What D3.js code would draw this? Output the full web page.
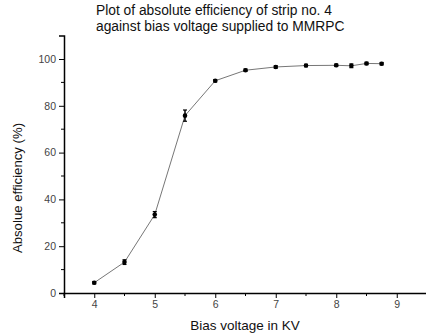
<!DOCTYPE html>
<html>
<head>
<meta charset="utf-8">
<script src="https://cdn.jsdelivr.net/npm/d3@7"></script>
<style>
  body { margin: 0; background: #fff; }
  text { font-family: "Liberation Sans", Arial, sans-serif; }
</style>
</head>
<body>
<script>
const WIDTH = 426
const HEIGHT = 333

// data
const voltage = [4, 4.5, 5, 5.5, 6, 6.5, 7, 7.5, 8, 8.25, 8.5, 8.75]
const efficiency = [4.4, 13.2, 33.5, 75.8, 90.7, 95.2, 96.6, 97.2, 97.3, 97.1, 98.1, 98.0]
const errors = [0.5, 1.0, 1.3, 2.4, 0.5, 0.5, 0.5, 0.5, 0.5, 0.8, 0.5, 0.5]
const xTicks = [4, 5, 6, 7, 8, 9]
const yTicks = [0, 20, 40, 60, 80, 100]

const svg = d3.select("body").append("svg")
    .attr("width", WIDTH)
    .attr("height", HEIGHT)

const x = d3.scaleLinear().domain([3.5, 9.5]).range([64, 427])
const y = d3.scaleLinear().domain([0, 110]).range([293, 35.6])

// minor ticks
const xMinor = d3.range(3.5, 9.51, 0.5).filter(v => !xTicks.includes(v))
const yMinor = d3.range(10, 110, 20)

const gx = svg.append("g").attr("transform", "translate(0,293)")
gx.call(d3.axisBottom(x).tickValues(xTicks).tickSize(5).tickPadding(3).tickFormat(d3.format("d")))
gx.append("g").selectAll("line").data(xMinor).enter().append("line")
    .attr("x1", d => x(d)).attr("x2", d => x(d))
    .attr("y1", 0).attr("y2", 3)
    .attr("stroke", "#000")

const gy = svg.append("g").attr("transform", "translate(64,0)")
gy.call(d3.axisLeft(y).tickValues(yTicks).tickSize(5).tickPadding(3).tickFormat(d3.format("d")))
gy.append("g").selectAll("line").data(yMinor).enter().append("line")
    .attr("y1", d => y(d)).attr("y2", d => y(d))
    .attr("x1", 0).attr("x2", -3)
    .attr("stroke", "#000")

svg.selectAll(".domain").attr("stroke", "#000").attr("stroke-width", 1.5)
svg.selectAll(".tick line").attr("stroke", "#000")
svg.selectAll(".tick text").attr("font-size", 10.5).attr("fill", "#444")
    .style("font-family", "Liberation Sans, Arial, sans-serif")

const pts = voltage.map((v, i) => ({x: v, y: efficiency[i], e: errors[i]}))

// connecting line
svg.append("path")
    .datum(pts)
    .attr("fill", "none")
    .attr("stroke", "#777")
    .attr("stroke-width", 1)
    .attr("d", d3.line().x(d => x(d.x)).y(d => y(d.y)))

// error bars
const eb = svg.append("g").selectAll("g").data(pts).enter().append("g")
eb.append("line")
    .attr("x1", d => x(d.x)).attr("x2", d => x(d.x))
    .attr("y1", d => y(d.y - d.e)).attr("y2", d => y(d.y + d.e))
    .attr("stroke", "#000").attr("stroke-width", 1.5)
eb.append("line")
    .attr("x1", d => x(d.x) - 2).attr("x2", d => x(d.x) + 2)
    .attr("y1", d => y(d.y + d.e)).attr("y2", d => y(d.y + d.e))
    .attr("stroke", "#000").attr("stroke-width", 1.2)
eb.append("line")
    .attr("x1", d => x(d.x) - 2).attr("x2", d => x(d.x) + 2)
    .attr("y1", d => y(d.y - d.e)).attr("y2", d => y(d.y - d.e))
    .attr("stroke", "#000").attr("stroke-width", 1.2)

// markers
svg.append("g").selectAll("circle").data(pts).enter().append("circle")
    .attr("cx", d => x(d.x))
    .attr("cy", d => y(d.y))
    .attr("r", 2.3)
    .attr("fill", "#000")

// title
svg.append("text").attr("x", 96).attr("y", 15).attr("font-size", 13.8)
    .attr("fill", "#111").text("Plot of absolute efficiency of strip no. 4")
svg.append("text").attr("x", 96).attr("y", 31).attr("font-size", 13.8)
    .attr("fill", "#111").text("against bias voltage supplied to MMRPC")

// axis labels
svg.append("text").attr("x", 245).attr("y", 330).attr("font-size", 13.5)
    .attr("text-anchor", "middle").attr("fill", "#111").text("Bias voltage in KV")
svg.append("text").attr("transform", "translate(22,188) rotate(-90)")
    .attr("font-size", 13.2).attr("text-anchor", "middle").attr("fill", "#111")
    .text("Absolue efficiency (%)")
</script>
</body>
</html>
